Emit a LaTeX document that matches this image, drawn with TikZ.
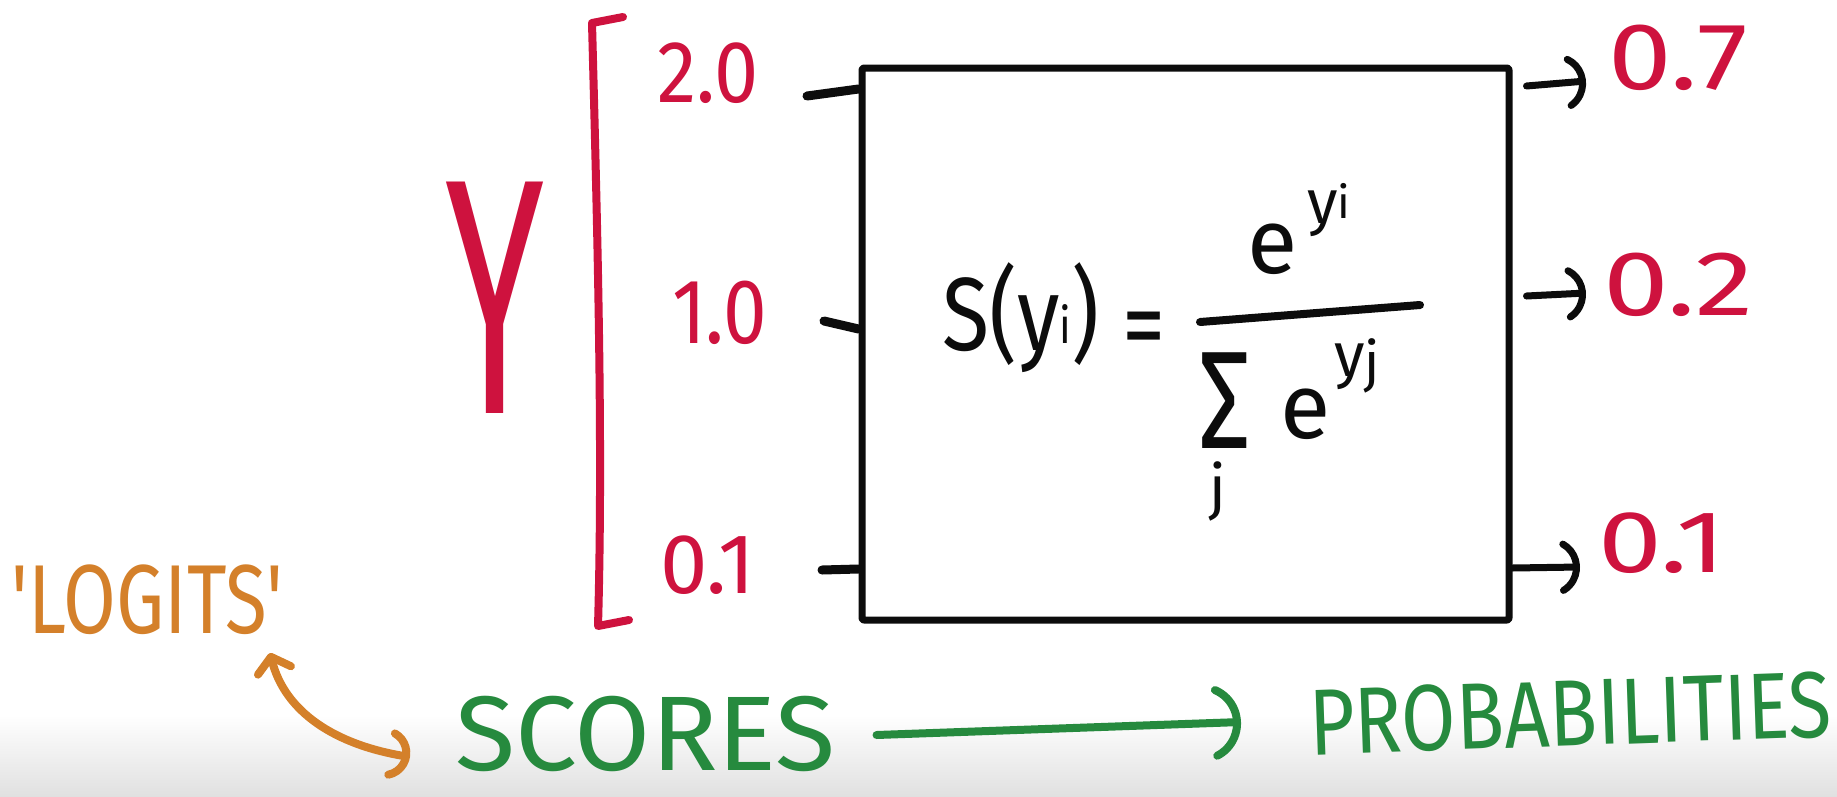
\documentclass[tikz,border=0pt]{standalone}
\usepackage{fontspec}
\setmainfont{Fira Sans}
\usetikzlibrary{arrows.meta,calc}
\definecolor{myred}{RGB}{206,18,62}
\definecolor{myorange}{RGB}{212,128,42}
\definecolor{mygreen}{RGB}{38,138,62}
\definecolor{ink}{RGB}{12,12,12}
\newcommand{\hwt}[3]{\scalebox{#1}[1]{\fontsize{#2}{#2}\selectfont #3}}
\newcommand{\fsz}[1]{\fontsize{#1}{#1}\selectfont}
\begin{document}
\begin{tikzpicture}[x=1pt,y=-1pt,line cap=round,line join=round,
  hw/.style={inner sep=0pt,outer sep=0pt,anchor=base west},
  tickline/.style={draw=ink,line width=9pt},
  outarr/.style={draw=ink,line width=7pt,-{Arc Barb[arc=120,scale=1.95,round]}},
  garr/.style={draw=mygreen,line width=8pt,-{Arc Barb[arc=130,scale=2.3,round]}},
  oarr/.style={draw=myorange,line width=8pt,{Straight Barb[length=14pt,width=34pt,round]}-{Arc Barb[arc=140,scale=1.5,round]}}]
\fill[white] (0,0) rectangle (1837,796);
\shade[top color=white,bottom color=black!12] (0,715) rectangle (1837,796);
\useasboundingbox (0,0) rectangle (1837,796);

% Y and bracket
\node[inner sep=0pt,text=myred,anchor=center] (Y) at (495,298) {\scalebox{3.0}[5.6]{\fsz{60}Y}};
\draw[myred,line width=8pt] (623,17) -- (592,23) .. controls (598,250) and (603,450) .. (598,626) -- (629,620);

% input scores
\node[hw,text=myred] (i1) at (657,102) {\hwt{0.9}{88}{2.0}};
\node[hw,text=myred] (i2) at (672,343) {\hwt{0.85}{92}{1.0}};
\node[hw,text=myred] (i3) at (660,593) {\hwt{1.0}{85}{0.1}};

% box
\node[draw=ink,line width=7pt,minimum width=647pt,minimum height=552pt,inner sep=0pt,rounded corners=2pt] (box) at (1185.5,344) {};

% input ticks
\draw[tickline] (807,96) -- (box.west |- 0,89);
\draw[tickline] (824,321) -- (box.west |- 0,329);
\draw[tickline] (822,570) -- (box.west |- 0,569);

% outputs
\node[hw,text=myred] (o1) at (1608,89) {\hwt{1.2}{95}{0.7}};
\node[hw,text=myred] (o2) at (1603,315) {\hwt{1.28}{92}{0.2}};
\node[hw,text=myred] (o3) at (1598,572) {\hwt{1.3}{88}{0.1}};
\draw[outarr] ($(box.east |- 0,86)+(14,0)$) -- ($(o1.base west)+(-22,-8)$);
\draw[outarr] ($(box.east |- 0,296)+(14,0)$) -- ($(o2.base west)+(-17,-22)$);
\draw[outarr] (box.east |- 0,568) -- ($(o3.base west)+(-18,-5)$);

% formula
\node[hw,text=ink] (lhs) at (942,350) {\hwt{0.83}{104}{S(y\raisebox{7pt}{\fsz{50}i}) \raisebox{-10pt}{=}}};
\node[hw,text=ink] (num) at (1247,273) {\fsz{92}e\hspace{10pt}\raisebox{50pt}{\fsz{62}y\raisebox{5pt}{\fsz{45}i}}};
\draw[ink,line width=8pt] (1200,322) -- (1420,305);
\node[hw,text=ink] (sig) at (1198,448) {\rlap{\hspace{11pt}\raisebox{-60pt}{\fsz{60}j}}\hwt{0.75}{139}{Σ}};
\node[hw,text=ink] (den) at (1280,438) {\fsz{92}e\hspace{4pt}\raisebox{62pt}{\fsz{62}y\raisebox{-5pt}{\fsz{55}j}}};

% bottom labels
\node[hw,text=myorange] (logits) at (12,633) {\hwt{0.78}{98}{\textquotesingle LOGITS\textquotesingle}};
\node[hw,text=mygreen] (scores) at (455,770) {\hwt{1.04}{106}{SCORES}};
\node[hw,text=mygreen,rotate=2] (prob) at (1310,755) {\hwt{0.84}{94}{PROBABILITIES}};

\draw[oarr] ($(logits.base west)+(258,20)$) .. controls (285,712) and (335,745) .. ($(scores.base west)+(-45,-13)$);
\draw[garr] ($(scores.base east)+(41,-35)$) -- ($(prob.base west)+(-69,-33)$);
\end{tikzpicture}
\end{document}
